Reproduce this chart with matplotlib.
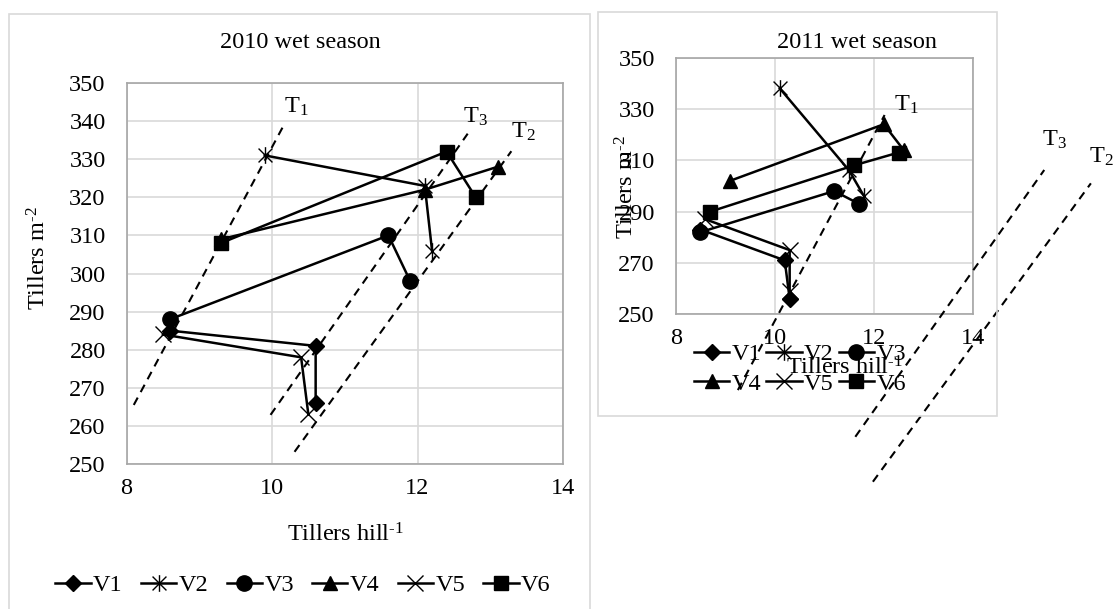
import matplotlib
matplotlib.use("Agg")
import matplotlib.pyplot as plt
from matplotlib.patches import Rectangle
from matplotlib.lines import Line2D
from matplotlib.path import Path

plt.rcParams['font.family'] = ['Liberation Serif', 'DejaVu Serif']
plt.rcParams['mathtext.fontset'] = 'custom'
plt.rcParams['mathtext.rm'] = 'Liberation Serif'
plt.rcParams['mathtext.it'] = 'Liberation Serif:italic'
plt.rcParams['mathtext.default'] = 'rm'

# ---------------- data ----------------
series_names = ['V1', 'V2', 'V3', 'V4', 'V5', 'V6']

# 2010 wet season (tillers hill-1, tillers m-2)
x2010_V1 = [8.6, 10.6, 10.6];  y2010_V1 = [285, 281, 266]
x2010_V2 = [9.9, 12.1, 12.2];  y2010_V2 = [331, 323, 306]
x2010_V3 = [8.6, 11.6, 11.9];  y2010_V3 = [288, 310, 298]
x2010_V4 = [9.3, 12.1, 13.1];  y2010_V4 = [309, 322, 328]
x2010_V5 = [8.5, 10.4, 10.5];  y2010_V5 = [284, 278, 263]
x2010_V6 = [9.3, 12.4, 12.8];  y2010_V6 = [308, 332, 320]

# 2011 wet season
x2011_V1 = [8.5, 10.2, 10.3];  y2011_V1 = [283, 271, 256]
x2011_V2 = [10.1, 11.5, 11.8]; y2011_V2 = [338, 306, 296]
x2011_V3 = [8.5, 11.2, 11.7];  y2011_V3 = [282, 298, 293]
x2011_V4 = [9.1, 12.2, 12.6];  y2011_V4 = [302, 324, 314]
x2011_V5 = [8.6, 10.3, 10.3];  y2011_V5 = [287, 275, 259]
x2011_V6 = [8.7, 11.6, 12.5];  y2011_V6 = [290, 308, 313]

# dashed reference lines (T1, T3, T2) in data coordinates of each panel
t_names = ['T$_1$', 'T$_3$', 'T$_2$']
t2010_x = [[8.1, 10.15], [9.98, 12.69], [10.31, 13.29]]
t2010_y = [[265.5, 338.5], [262.9, 336.7], [253.2, 332.1]]
t2010_lab_x = [10.34, 12.79, 13.45]
t2010_lab_y = [343.8, 341.2, 337.2]

t2011_x = [[9.255, 12.216], [11.625, 15.438], [11.98, 16.379]]
t2011_y = [[220.5, 327.6], [202.3, 306.2], [184.8, 301.0]]
t2011_lab_x = [12.65, 15.64, 16.58]
t2011_lab_y = [331.5, 317.9, 311.4]

x_ticks = [8, 10, 12, 14]
y_ticks_2010 = list(range(250, 351, 10))
y_ticks_2011 = list(range(250, 351, 20))

ylab = r'Tillers m$^{\text{-}2}$'
xlab = r'Tillers hill$^{\text{-}1}$'

# ---------------- styles ----------------
W, H = 1114, 609
# Excel-like star marker: an X with a vertical bar
star = Path([(-1, -1), (1, 1), (-1, 1), (1, -1), (0, -1.2), (0, 1.2)],
            [Path.MOVETO, Path.LINETO, Path.MOVETO, Path.LINETO, Path.MOVETO, Path.LINETO])
markers = ['D', star, 'o', '^', 'x', 's']
msizes = [8.5, 12, 11, 10.5, 11, 10.5]
FS = 17.5
GRID = '#d9d9d9'
SPINE = '#a6a6a6'

fig = plt.figure(figsize=(W / 100, H / 100), dpi=100)


def px(x0, y0, x1, y1):
    return [x0 / W, 1 - y1 / H, (x1 - x0) / W, (y1 - y0) / H]


def fx(x):
    return x / W


def fy(y):
    return 1 - y / H


# outer frames of the two chart objects
fig.patches.append(Rectangle((fx(9), fy(640)), fx(590) - fx(9), fy(14) - fy(640),
                             transform=fig.transFigure, fill=False,
                             edgecolor=GRID, linewidth=1.2, zorder=0))
fig.patches.append(Rectangle((fx(598), fy(416)), fx(997) - fx(598), fy(12) - fy(416),
                             transform=fig.transFigure, fill=False,
                             edgecolor=GRID, linewidth=1.2, zorder=0))


def style_axes(ax, yticks):
    ax.set_xlim(8, 14)
    ax.set_ylim(250, 350)
    ax.set_xticks(x_ticks)
    ax.set_yticks(yticks)
    ax.grid(True, color=GRID, linewidth=1.2)
    ax.set_axisbelow(True)
    for s in ax.spines.values():
        s.set_color(SPINE)
        s.set_linewidth(1.2)
    ax.tick_params(axis='both', length=0, labelsize=FS, colors='black')
    ax.tick_params(axis='y', pad=15)
    ax.tick_params(axis='x', pad=10)
    ax.patch.set_alpha(0)


def draw_series(ax, xs, ys):
    for i, (x, y) in enumerate(zip(xs, ys)):
        ax.plot(x, y, color='black', linewidth=1.8,
                marker=markers[i], markersize=msizes[i],
                markerfacecolor='black', markeredgecolor='black',
                markeredgewidth=1.0, clip_on=False, zorder=3)


def legend_handles():
    hs = []
    for i in range(6):
        hs.append(Line2D([0], [0], color='black', linewidth=1.8, marker=markers[i],
                         markersize=msizes[i], markerfacecolor='black',
                         markeredgecolor='black', markeredgewidth=1.0))
    return hs


# ---------------- 2010 panel ----------------
ax1 = fig.add_axes(px(126.5, 83, 563, 464))
style_axes(ax1, y_ticks_2010)
draw_series(ax1,
            [x2010_V1, x2010_V2, x2010_V3, x2010_V4, x2010_V5, x2010_V6],
            [y2010_V1, y2010_V2, y2010_V3, y2010_V4, y2010_V5, y2010_V6])
for i in range(3):
    ax1.plot(t2010_x[i], t2010_y[i], color='black', linewidth=1.5,
             linestyle=(0, (4, 3)), zorder=2, clip_on=False)
    ax1.text(t2010_lab_x[i], t2010_lab_y[i], t_names[i], fontsize=FS,
             ha='center', va='center')

fig.text(fx(300), fy(43), '2010 wet season', fontsize=FS, ha='center', va='center')
fig.text(fx(39), fy(258), ylab, fontsize=FS, ha='center', va='center', rotation=90)
fig.text(fx(346), fy(535), xlab, fontsize=FS, ha='center', va='center')
fig.legend(legend_handles(), series_names, loc='center', bbox_to_anchor=(fx(303), fy(585)),
           ncol=6, frameon=False, fontsize=FS, handlelength=1.45, handletextpad=0.1,
           columnspacing=0.75, borderaxespad=0, borderpad=0)

# ---------------- 2011 panel ----------------
ax2 = fig.add_axes(px(675.7, 57.5, 973, 314.3))
style_axes(ax2, y_ticks_2011)
draw_series(ax2,
            [x2011_V1, x2011_V2, x2011_V3, x2011_V4, x2011_V5, x2011_V6],
            [y2011_V1, y2011_V2, y2011_V3, y2011_V4, y2011_V5, y2011_V6])
for i in range(3):
    ax2.plot(t2011_x[i], t2011_y[i], color='black', linewidth=1.5,
             linestyle=(0, (4, 3)), zorder=5, clip_on=False)
    ax2.text(t2011_lab_x[i], t2011_lab_y[i], t_names[i], fontsize=FS,
             ha='center', va='center', clip_on=False)

fig.text(fx(857), fy(42), '2011 wet season', fontsize=FS, ha='center', va='center')
fig.text(fx(627), fy(187), ylab, fontsize=FS, ha='center', va='center', rotation=90)
fig.text(fx(845), fy(368), xlab, fontsize=FS, ha='center', va='center')
# two rows (V1 V2 V3 / V4 V5 V6): matplotlib fills columns first
hs = legend_handles()
order = [0, 3, 1, 4, 2, 5]
fig.legend([hs[k] for k in order], [series_names[k] for k in order], loc='center',
           bbox_to_anchor=(fx(800), fy(369)),
           ncol=3, frameon=False, fontsize=FS, handlelength=1.45, handletextpad=0.1,
           columnspacing=0.2, labelspacing=0.3, borderaxespad=0, borderpad=0)

fig.savefig('out.png', dpi=100)
